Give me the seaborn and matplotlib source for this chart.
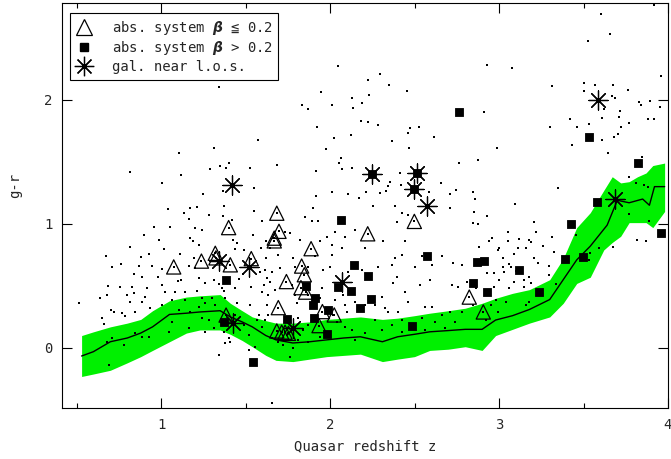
import matplotlib
matplotlib.use("Agg")
import matplotlib.pyplot as plt
from matplotlib.lines import Line2D
from matplotlib.ticker import FixedLocator
import seaborn as sns

# Running median g-r colour of the quasar sample
track_z = [0.53, 0.60, 0.70, 0.80, 0.88, 0.95, 1.05, 1.15, 1.23, 1.35, 1.41, 1.48,
           1.54, 1.62, 1.68, 1.78, 1.88, 1.98, 2.08, 2.18, 2.31, 2.40, 2.50, 2.59,
           2.70, 2.80, 2.90, 2.98, 3.08, 3.18, 3.30, 3.38, 3.46, 3.54, 3.64, 3.70,
           3.77, 3.85, 3.89, 3.92, 3.98]
track_gr = [-0.065, -0.03, 0.05, 0.08, 0.12, 0.17, 0.27, 0.28, 0.29, 0.30, 0.25, 0.21,
            0.17, 0.10, 0.065, 0.04, 0.05, 0.065, 0.08, 0.09, 0.05, 0.09, 0.11, 0.13,
            0.14, 0.15, 0.15, 0.225, 0.26, 0.31, 0.39, 0.55, 0.71, 0.82, 0.99, 1.19,
            1.17, 1.20, 1.15, 1.30, 1.30]

# Scatter envelope around the median
band_z = [0.53, 0.60, 0.70, 0.80, 0.88, 0.95, 1.05, 1.15, 1.23, 1.35, 1.41, 1.48,
          1.54, 1.62, 1.68, 1.78, 1.88, 1.98, 2.08, 2.18, 2.31, 2.40, 2.50, 2.59,
          2.70, 2.80, 2.90, 2.98, 3.08, 3.18, 3.30, 3.38, 3.46, 3.54, 3.62, 3.67,
          3.72, 3.77, 3.82, 3.87, 3.91, 3.98]
band_hi = [0.10, 0.13, 0.17, 0.20, 0.23, 0.30, 0.38, 0.41, 0.42, 0.43, 0.36, 0.30,
           0.25, 0.22, 0.20, 0.20, 0.21, 0.23, 0.24, 0.25, 0.23, 0.24, 0.26, 0.28,
           0.30, 0.32, 0.36, 0.40, 0.44, 0.47, 0.55, 0.72, 0.97, 1.09, 1.27, 1.38,
           1.33, 1.34, 1.38, 1.41, 1.47, 1.49]
band_lo = [-0.23, -0.21, -0.18, -0.12, -0.07, -0.02, 0.05, 0.12, 0.145, 0.145, 0.11, 0.06,
           0.01, -0.06, -0.10, -0.11, -0.09, -0.07, -0.06, -0.05, -0.11, -0.09, -0.07, -0.02,
           -0.01, 0.01, -0.02, 0.10, 0.15, 0.20, 0.25, 0.36, 0.52, 0.57, 0.79, 0.85,
           0.90, 1.01, 1.01, 1.01, 0.97, 1.10]

# Absorption systems with beta <= 0.2
weak_z = [1.685, 1.698, 1.67, 1.67, 2.223, 2.499, 1.888, 1.832, 1.848, 1.742,
          1.828, 1.856, 1.694, 1.955, 2.025, 1.935, 1.685, 1.714, 1.734, 1.754,
          2.824, 2.907, 1.40, 1.075, 1.239, 1.321, 1.325, 1.41, 1.534, 1.385]
weak_gr = [1.086, 0.94, 0.885, 0.863, 0.92, 1.02, 0.80, 0.66, 0.59, 0.535,
           0.486, 0.45, 0.325, 0.293, 0.266, 0.18, 0.137, 0.127, 0.127, 0.118,
           0.41, 0.29, 0.97, 0.653, 0.70, 0.763, 0.726, 0.67, 0.72, 0.265]

# Absorption systems with beta > 0.2
strong_z = [2.247, 2.513, 2.497, 2.765, 3.535, 3.822, 3.578, 3.96, 3.426, 3.389,
            3.495, 2.868, 2.909, 3.12, 2.848, 2.929, 3.235, 2.065, 2.574, 2.144,
            2.227, 2.045, 1.86, 2.124, 1.911, 2.243, 1.898, 2.176, 1.986, 1.744,
            1.904, 2.487, 1.98, 1.385, 1.373, 1.544]
strong_gr = [1.40, 1.41, 1.285, 1.90, 1.70, 1.49, 1.175, 0.93, 1.00, 0.72,
             0.73, 0.69, 0.70, 0.63, 0.52, 0.45, 0.45, 1.03, 0.745, 0.67,
             0.58, 0.495, 0.50, 0.46, 0.406, 0.395, 0.35, 0.32, 0.306, 0.234,
             0.245, 0.18, 0.115, 0.546, 0.212, -0.113]

# Quasars with a galaxy near the line of sight
gal_z = [1.42, 2.247, 2.513, 2.497, 2.574, 3.588, 3.686, 1.341, 1.519, 2.069, 1.783, 1.424]
gal_gr = [1.31, 1.40, 1.41, 1.285, 1.145, 2.00, 1.20, 0.70, 0.653, 0.535, 0.159, 0.20]

# Remaining quasars of the sample
field_z = [
    1.341, 1.574, 1.312, 1.105, 1.400, 1.351, 1.385, 1.292, 1.528, 0.818, 1.118, 1.006, 1.548, 1.247, 1.367,
    2.045, 2.296, 2.223, 2.349, 1.945, 2.457, 2.231, 2.128, 2.187, 1.832, 1.868, 2.010, 2.138, 2.181, 2.223,
    2.282, 1.921, 2.473, 2.527, 2.460, 2.122, 2.022, 2.615, 2.369, 1.976, 2.467, 2.065, 2.053, 2.069, 2.132,
    1.688, 1.915, 2.765, 2.414, 2.355, 2.341, 2.655, 2.418, 1.917, 2.014, 2.108, 2.173, 2.213, 2.296, 2.330,
    2.586, 2.710, 2.744,
    3.919, 3.604, 3.657, 3.529, 2.929, 3.075, 3.957, 3.314, 3.501, 3.570, 3.676, 3.761, 3.505, 3.667, 3.686,
    3.826, 3.840, 3.895, 3.955, 3.619, 3.716, 3.420, 3.609, 3.708, 3.880, 3.919, 2.913, 3.767, 3.462, 3.535,
    3.300, 3.722, 3.702, 3.679, 3.609, 3.432, 2.988, 3.643, 2.874, 3.844, 3.771, 3.811, 3.858, 3.880, 3.347,
    2.844, 2.860, 3.095,
    1.041, 1.134, 1.174, 1.213, 1.282, 1.375, 1.365, 1.420, 1.548, 1.598, 0.957, 1.055, 1.164, 1.203, 1.243,
    0.897, 0.986, 1.174, 1.189, 1.223, 1.542, 1.424, 1.450, 1.489, 1.590, 1.621, 0.819, 0.677, 0.931, 0.882,
    1.016, 1.114, 1.193, 1.440, 0.710, 0.765, 0.872, 0.947, 1.006, 1.164, 1.203, 1.485, 1.588, 0.838, 0.888,
    0.982, 1.101, 1.120, 1.223, 1.312, 1.460, 1.607, 0.686, 0.759, 0.828, 0.917, 1.006, 1.262, 1.341, 1.361,
    1.440, 1.531, 1.627, 0.641, 0.680, 0.799, 0.838, 0.907, 1.026, 1.085, 1.144, 1.213, 1.371, 1.598, 0.513,
    0.706, 0.769, 0.819, 0.888, 1.065, 1.144, 1.243, 1.302, 1.381, 1.450, 1.529, 1.578, 0.661, 0.720, 0.789,
    0.651, 0.848, 0.937, 1.006, 1.105, 1.174, 1.223, 1.262, 1.321, 1.282, 1.440, 1.489, 1.568, 1.598, 0.848,
    0.927, 1.045, 1.164, 1.262, 1.312, 1.371, 1.400, 1.519, 0.710, 0.680, 0.779, 1.381, 1.410, 1.345, 1.519,
    1.558, 0.690, 0.888, 1.065, 1.243,
    1.901, 1.852, 1.892, 1.931, 2.256, 2.385, 2.424, 2.394, 2.464, 2.710, 2.030, 1.980, 2.148, 2.089, 2.010,
    1.822, 1.941, 1.734, 1.763, 1.645, 1.621, 1.694, 1.783, 1.911, 2.010, 2.069, 2.207, 2.316, 2.444, 2.424,
    2.385, 2.503, 2.542, 2.602, 2.661, 2.730, 2.779, 1.615, 1.655, 1.704, 1.793, 1.872, 1.961, 2.000, 2.108,
    2.187, 2.286, 2.365, 2.394, 2.375, 2.444, 2.533, 2.592, 2.720, 2.759, 2.809, 1.645, 1.675, 1.635, 1.625,
    1.773, 1.793, 1.803, 1.872, 1.951, 1.941, 2.030, 2.079, 2.089, 2.099, 2.148, 2.207, 2.266, 2.306, 2.325,
    2.404, 2.464, 2.562, 2.602, 2.661, 2.710, 2.740, 2.779, 2.621, 2.542, 2.424, 2.345, 2.306, 2.089, 2.039,
    2.020, 1.872, 1.842, 1.813, 1.694, 1.655, 1.724, 1.783, 1.813, 1.763, 1.872, 1.941, 2.148, 2.207, 2.365,
    2.424, 2.562, 2.680, 1.655, 1.615, 1.635, 2.128, 2.266,
    2.854, 2.927, 2.844, 2.874, 3.205, 3.055, 3.219, 3.312, 2.959, 2.943, 3.051, 3.120, 3.179, 3.189, 3.258,
    2.884, 3.002, 2.992, 3.110, 3.160, 3.327, 3.538, 3.022, 3.091, 3.209, 3.229, 3.061, 3.071, 3.022, 3.298,
    2.927, 2.972, 3.032, 3.101, 3.179, 3.298, 3.002, 3.091, 3.150, 3.189, 2.972, 3.061, 3.150, 3.337, 2.864,
    2.844, 2.953, 2.982, 3.160, 3.179, 2.992, 3.041, 3.889, 3.771, 3.815, 3.673, 2.923, 3.870, 3.456, 3.535,
    3.594,
]
field_gr = [
    2.107, 1.672, 1.610, 1.570, 1.489, 1.470, 1.449, 1.441, 1.449, 1.414, 1.395, 1.333, 1.288, 1.239, 1.261,
    2.274, 2.204, 2.161, 2.121, 2.065, 2.067, 2.040, 2.014, 1.978, 1.957, 1.925, 1.957, 1.933, 1.833, 1.823,
    1.793, 1.782, 1.772, 1.777, 1.736, 1.720, 1.694, 1.699, 1.669, 1.607, 1.610, 1.527, 1.489, 1.446, 1.449,
    1.478, 1.430, 1.492, 1.409, 1.336, 1.306, 1.333, 1.315, 1.226, 1.253, 1.242, 1.207, 1.253, 1.247, 1.266,
    1.253, 1.242, 1.269,
    2.766, 2.694, 2.532, 2.473, 2.282, 2.258, 2.194, 2.108, 2.132, 2.121, 2.118, 2.081, 2.067, 2.027, 2.016,
    1.984, 1.960, 1.992, 1.944, 1.925, 1.911, 1.847, 1.855, 1.860, 1.849, 1.849, 1.898, 1.815, 1.782, 1.806,
    1.782, 1.782, 1.726, 1.704, 1.677, 1.632, 1.610, 1.570, 1.514, 1.538, 1.379, 1.333, 1.315, 1.301, 1.293,
    1.253, 1.202, 1.161,
    1.121, 1.086, 1.126, 1.132, 1.073, 1.140, 1.067, 1.032, 1.105, 1.024, 0.978, 0.978, 1.040, 0.965, 0.952,
    0.911, 0.871, 0.884, 0.863, 0.831, 0.911, 0.871, 0.844, 0.790, 0.804, 0.858, 0.812, 0.737, 0.755, 0.731,
    0.796, 0.755, 0.723, 0.796, 0.656, 0.675, 0.664, 0.661, 0.637, 0.661, 0.648, 0.594, 0.616, 0.594, 0.575,
    0.575, 0.540, 0.548, 0.567, 0.548, 0.556, 0.508, 0.503, 0.495, 0.495, 0.481, 0.508, 0.522, 0.513, 0.487,
    0.481, 0.495, 0.562, 0.406, 0.427, 0.427, 0.441, 0.414, 0.454, 0.454, 0.454, 0.460, 0.460, 0.449, 0.363,
    0.304, 0.280, 0.374, 0.374, 0.387, 0.387, 0.401, 0.406, 0.401, 0.360, 0.347, 0.266, 0.191, 0.293, 0.261,
    0.239, 0.293, 0.320, 0.347, 0.306, 0.293, 0.333, 0.360, 0.347, 0.226, 0.266, 0.185, 0.226, 0.172, 0.118,
    0.091, 0.132, 0.159, 0.132, 0.159, 0.132, 0.078, 0.105, 0.078, 0.051, 0.024, 0.038, 0.051, -0.056, -0.016,
    0.011, -0.137, 0.091, 0.212, 0.239,
    1.126, 1.059, 1.024, 1.024, 1.140, 1.140, 1.086, 1.019, 1.073, 1.126, 0.938, 0.898, 0.952, 0.898, 0.831,
    0.871, 0.858, 0.938, 0.925, 0.804, 0.723, 0.750, 0.723, 0.737, 0.750, 0.804, 0.804, 0.858, 0.858, 0.750,
    0.723, 0.656, 0.737, 0.669, 0.737, 0.683, 0.669, 0.629, 0.616, 0.642, 0.656, 0.656, 0.629, 0.656, 0.616,
    0.629, 0.656, 0.669, 0.575, 0.522, 0.454, 0.508, 0.548, 0.508, 0.495, 0.535, 0.535, 0.468, 0.427, 0.347,
    0.508, 0.427, 0.360, 0.427, 0.481, 0.401, 0.387, 0.427, 0.347, 0.293, 0.374, 0.347, 0.347, 0.414, 0.320,
    0.293, 0.374, 0.333, 0.333, 0.266, 0.293, 0.212, 0.293, 0.212, 0.239, 0.226, 0.293, 0.145, 0.172, 0.212,
    0.266, 0.185, 0.145, 0.239, 0.051, 0.078, 0.024, -0.003, 0.065, -0.070, 0.051, 0.091, 0.065, 0.118, 0.185,
    0.132, 0.145, 0.159, -0.446, 0.226, 0.266, 0.145, 0.226,
    1.099, 1.067, 1.005, 0.997, 1.013, 0.938, 0.938, 0.898, 0.890, 0.858, 0.858, 0.879, 0.871, 0.852, 0.825,
    0.817, 0.804, 0.790, 0.804, 0.809, 0.772, 0.763, 0.723, 0.755, 0.723, 0.683, 0.675, 0.656, 0.656, 0.664,
    0.602, 0.602, 0.616, 0.621, 0.575, 0.589, 0.548, 0.535, 0.548, 0.522, 0.495, 0.481, 0.495, 0.513, 0.481,
    0.347, 0.347, 0.387, 0.347, 0.374, 0.293, 0.374, 1.024, 1.078, 0.871, 0.817, 0.226, 0.858, 0.911, 0.710,
    0.804,
]

# every absorber and galaxy sight line is itself a quasar of the sample
qso_z = field_z + weak_z + strong_z + gal_z
qso_gr = field_gr + weak_gr + strong_gr + gal_gr

x_major = [1, 2, 3, 4]
x_minor = [0.5, 1.5, 2.5, 3.5]
y_major = [0, 1, 2]

sns.set_style("ticks")
plt.rcParams["font.family"] = ["DejaVu Sans Mono", "DejaVu Sans"]
plt.rcParams["mathtext.fontset"] = "dejavusans"

fig = plt.figure(figsize=(6.71, 4.59), dpi=100)
ax = fig.add_axes([62 / 671, 51 / 459, 606 / 671, 405 / 459])

ax.fill_between(band_z, band_lo, band_hi, color="#00f000", linewidth=0, zorder=1)

sns.scatterplot(x=qso_z, y=qso_gr, marker="s", s=1.8, color="black",
                linewidth=0, ax=ax, zorder=2)

sns.lineplot(x=track_z, y=track_gr, color="black", linewidth=1.0,
             estimator=None, sort=False, ax=ax, zorder=3)

sns.scatterplot(x=weak_z, y=weak_gr, marker="^", s=105, color="black",
                facecolor="none", edgecolor="black", linewidth=0.9, ax=ax, zorder=4)
sns.scatterplot(x=strong_z, y=strong_gr, marker="s", s=30, color="black",
                edgecolor="black", linewidth=0.6, ax=ax, zorder=5)
sns.scatterplot(x=gal_z, y=gal_gr, marker=(8, 2, 0), s=190, color="black",
                linewidth=0.9, ax=ax, zorder=6)

ax.set_xlim(0.414, 4.0)
ax.set_ylim(-0.484, 2.78)
ax.xaxis.set_major_locator(FixedLocator(x_major))
ax.xaxis.set_minor_locator(FixedLocator(x_minor))
ax.yaxis.set_major_locator(FixedLocator(y_major))
ax.set_xticklabels([str(v) for v in x_major])
ax.set_yticklabels([str(v) for v in y_major])
ax.tick_params(which="both", direction="in", top=True, right=True,
               labelsize=10, width=0.8, color="black", pad=7)
ax.tick_params(which="major", length=7)
ax.tick_params(which="minor", length=3.5)
for sp in ax.spines.values():
    sp.set_linewidth(0.8)
    sp.set_color("black")

ax.set_xlabel("Quasar redshift z", fontsize=10)
ax.set_ylabel("g-r", fontsize=10)
ax.xaxis.set_label_coords(0.5, -0.078)
ax.yaxis.set_label_coords(-0.066, 0.55)

handles = [
    Line2D([], [], ls="", marker="^", ms=11, mfc="none", mec="black", mew=0.9),
    Line2D([], [], ls="", marker="s", ms=6, color="black"),
    Line2D([], [], ls="", marker=(8, 2, 0), ms=14, color="black", mew=0.9),
]
labels = [
    "abs. system $\\boldsymbol{\\beta}$ \u2266 0.2",
    "abs. system $\\boldsymbol{\\beta}$ > 0.2",
    "gal. near l.o.s.",
]
leg = ax.legend(handles, labels, loc="upper left",
                bbox_to_anchor=((70 - 62) / 606, (408 - 13) / 405),
                borderaxespad=0, frameon=True, fancybox=False, framealpha=1,
                edgecolor="black", fontsize=10, handlelength=1.2,
                handletextpad=1.4, borderpad=0.4, labelspacing=0.2)
leg.get_frame().set_linewidth(0.8)
leg.set_zorder(10)

fig.savefig("out.png", dpi=100)
